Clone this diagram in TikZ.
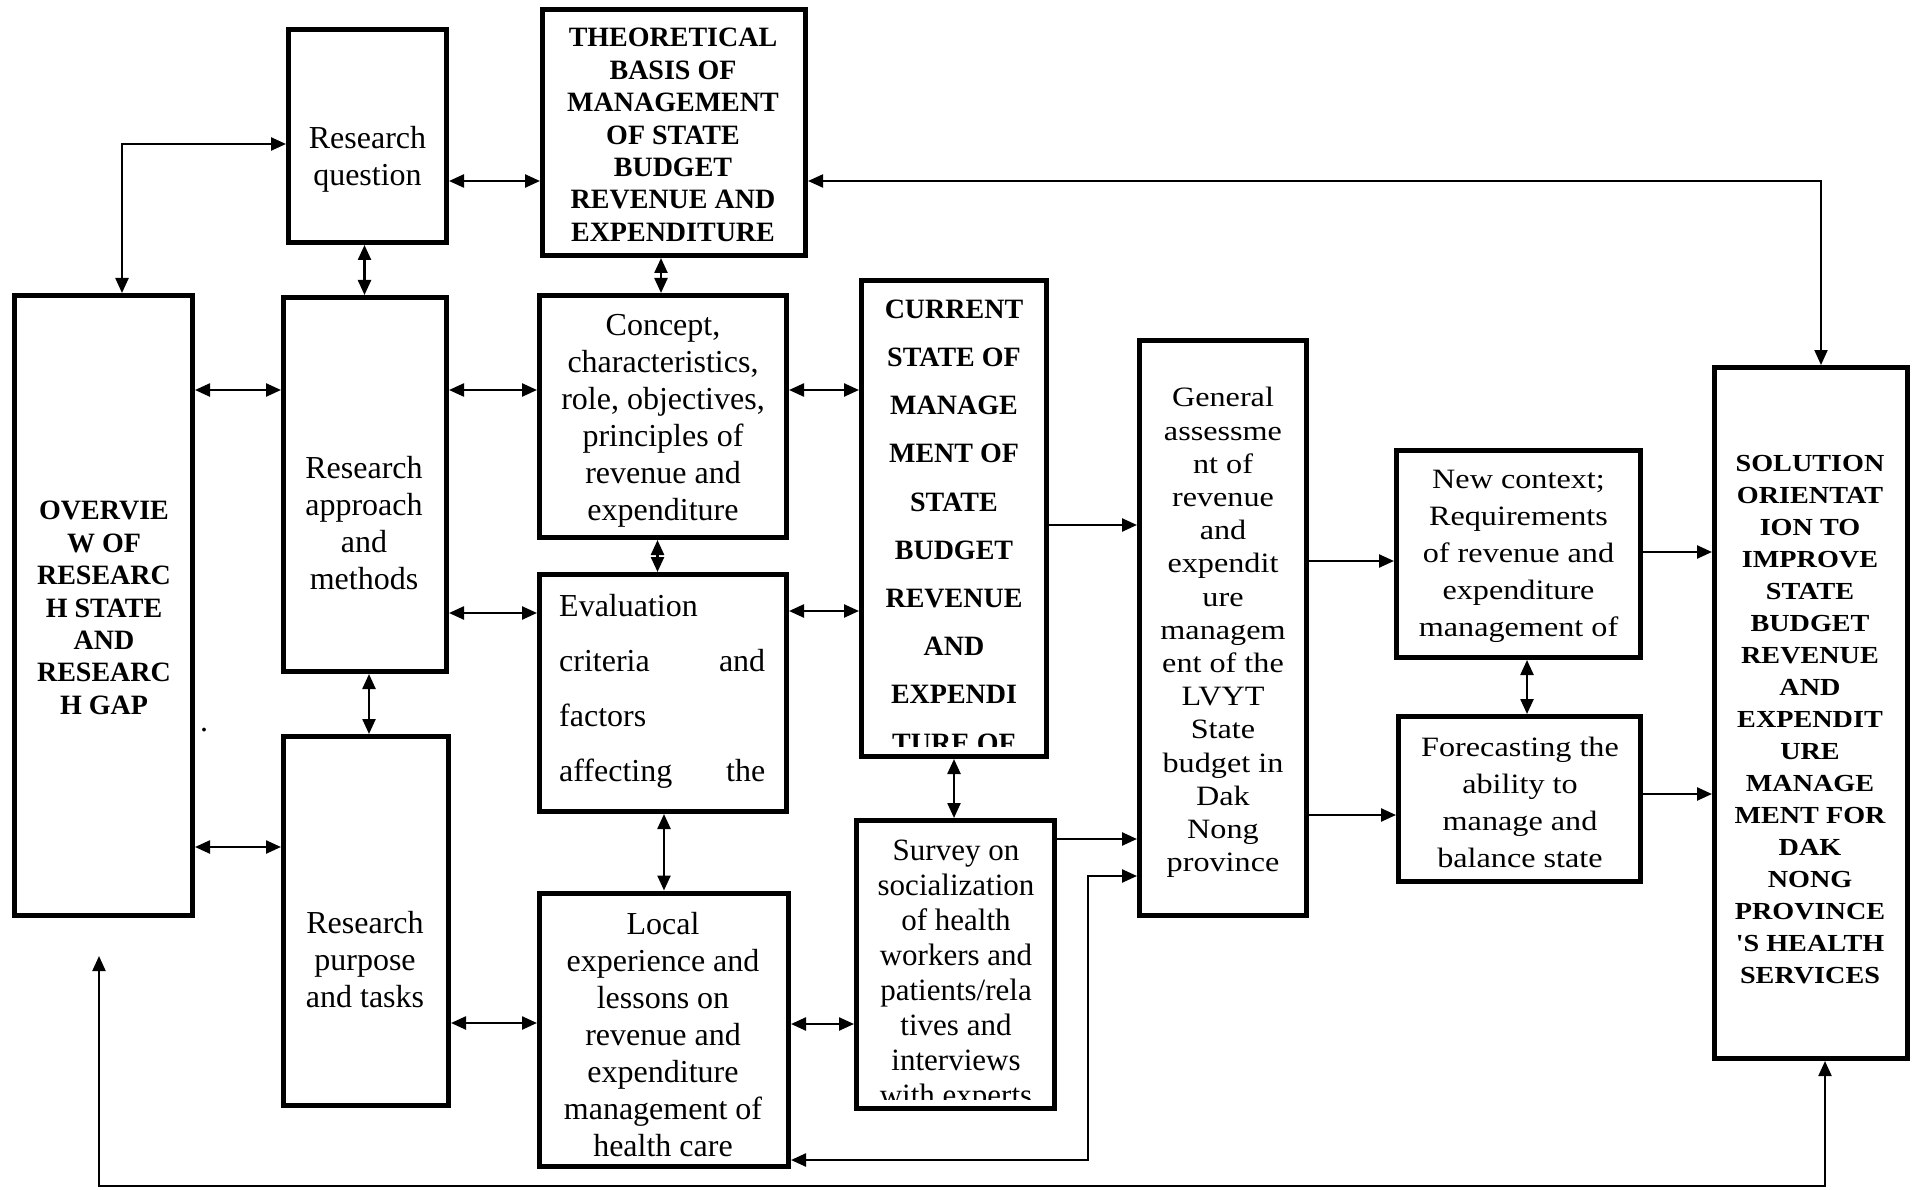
\documentclass[tikz,border=0pt]{standalone}
\usepackage{fontspec}
\setmainfont{Liberation Serif}
\newfontfamily\widefont[FakeStretch=1.15]{Liberation Serif}
\usetikzlibrary{arrows.meta}

\begin{document}
\begin{tikzpicture}[x=1pt,y=-1pt,
  box/.style={draw, line width=5pt, inner sep=0pt},
  conn/.style={line width=2.4pt, {Triangle[length=15pt,width=13pt]}-{Triangle[length=15pt,width=13pt]}},
  one/.style={line width=2.4pt, -{Triangle[length=15pt,width=13pt]}},
  txt/.style={align=center, inner sep=0pt, font=\fontsize{32}{37}\selectfont},
  capb/.style={align=center, inner sep=0pt, font=\bfseries\fontsize{28}{32.4}\selectfont},
  curs/.style={align=center, inner sep=0pt, font=\bfseries\fontsize{28}{48.2}\selectfont},
  survs/.style={align=center, inner sep=0pt, font=\fontsize{31}{35}\selectfont},
  gens/.style={align=center, inner sep=0pt, font=\widefont\fontsize{28}{33.2}\selectfont},
  ctxs/.style={align=center, inner sep=0pt, font=\widefont\fontsize{28}{37}\selectfont},
  sols/.style={align=center, inner sep=0pt, font=\widefont\bfseries\fontsize{24.5}{32}\selectfont}
]
\useasboundingbox (0,0) rectangle (1914,1190);

% boxes
\node[box, minimum width=158, minimum height=213] (rq) at (367.5,136) {};
\node[box, minimum width=263, minimum height=246] (theo) at (674,132.5) {};
\node[box, minimum width=178, minimum height=620] (ov) at (103.5,605.5) {};
\node[box, minimum width=163, minimum height=374] (ra) at (365,484.5) {};
\node[box, minimum width=165, minimum height=369] (rp) at (366,921) {};
\node[box, minimum width=247, minimum height=242] (con) at (663,416.5) {};
\node[box, minimum width=247, minimum height=237] (ev) at (663,693) {};
\node[box, minimum width=249, minimum height=273] (loc) at (664,1029.5) {};
\node[box, minimum width=185, minimum height=476] (cur) at (954,518.5) {};
\node[box, minimum width=198, minimum height=288] (sur) at (955.5,964.5) {};
\node[box, minimum width=167, minimum height=575] (gen) at (1223,628) {};
\node[box, minimum width=244, minimum height=207] (nc) at (1518.5,554) {};
\node[box, minimum width=242, minimum height=165] (fc) at (1519.5,799) {};
\node[box, minimum width=193, minimum height=691] (sol) at (1811,713) {};

% texts
\node[txt] (rq-t) at (367.5,159.5) {Research\\question};
\node[capb] (theo-t) at (673,135) {THEORETICAL\\BASIS OF\\MANAGEMENT\\OF STATE\\BUDGET\\REVENUE AND\\EXPENDITURE};
\node[capb] (ov-t) at (104,608) {OVERVIE\\W OF\\RESEARC\\H STATE\\AND\\RESEARC\\H GAP};
\node[txt] (ra-t) at (364,523) {Research\\approach\\and\\methods};
\node[txt] (rp-t) at (365,959.5) {Research\\purpose\\and tasks};
\node[txt] (con-t) at (663,420.5) {Concept,\\characteristics,\\role, objectives,\\principles of\\revenue and\\expenditure};
\node[txt, align=left, text width=206, anchor=north west, font=\fontsize{32}{55}\selectfont] (ev-t) at (559,594.5) {Evaluation\\criteria\hfill and\\factors\\affecting\hfill the};
\node[txt] (loc-t) at (663,1034.5) {Local\\experience and\\lessons on\\revenue and\\expenditure\\management of\\health care};
\begin{scope}
\clip (862,284) rectangle (1046,746);
\node[curs, anchor=north] (cur-t) at (954,299.6) {CURRENT\\STATE OF\\MANAGE\\MENT OF\\STATE\\BUDGET\\REVENUE\\AND\\EXPENDI\\TURE OF};
\end{scope}
\begin{scope}
\clip (857,821) rectangle (1054,1099);
\node[survs, anchor=north] (sur-t) at (956,840) {Survey on\\socialization\\of health\\workers and\\patients/rela\\tives and\\interviews\\with experts};
\end{scope}
\node[gens] (gen-t) at (1223,632.5) {General\\assessme\\nt of\\revenue\\and\\expendit\\ure\\managem\\ent of the\\LVYT\\State\\budget in\\Dak\\Nong\\province};
\node[ctxs] (nc-t) at (1518.5,556.5) {New context;\\Requirements\\of revenue and\\expenditure\\management of};
\node[ctxs] (fc-t) at (1520,802) {Forecasting the\\ability to\\manage and\\balance state};
\node[sols] (sol-t) at (1810,719.6) {SOLUTION\\ORIENTAT\\ION TO\\IMPROVE\\STATE\\BUDGET\\REVENUE\\AND\\EXPENDIT\\URE\\MANAGE\\MENT FOR\\DAK\\NONG\\PROVINCE\\'S HEALTH\\SERVICES};
\node[txt, anchor=base] (dot) at (204,731) {.};

% connectors
\draw[conn] (rq.west |- 0,144) -| (ov.north -| 122,0);
\draw[conn] (rq.east |- 0,181) -- (theo.west |- 0,181);
\draw[conn] (rq.south -| 364.5,0) -- (ra.north -| 364.5,0);
\draw[conn] (theo.south -| 661,0) -- (con.north -| 661,0);
\draw[conn, line width=2pt] (theo.east |- 0,181) -| (sol.north -| 1821,0);
\draw[conn] (ov.east |- 0,390) -- (ra.west |- 0,390);
\draw[conn] (ov.east |- 0,847) -- (rp.west |- 0,847);
\draw[conn] (ra.east |- 0,390) -- (con.west |- 0,390);
\draw[conn] (ra.east |- 0,613) -- (ev.west |- 0,613);
\draw[conn] (ra.south -| 369,0) -- (rp.north -| 369,0);
\draw[conn] (con.east |- 0,390) -- (cur.west |- 0,390);
\draw[conn] (ev.east |- 0,611) -- (cur.west |- 0,611);
\draw[conn] (con.south -| 657.5,0) -- (ev.north -| 657.5,0);
\draw[conn] (ev.south -| 664,0) -- (loc.north -| 664,0);
\draw[conn] (rp.east |- 0,1023) -- (loc.west |- 0,1023);
\draw[conn] (loc.east |- 0,1024) -- (sur.west |- 0,1024);
\draw[conn] (cur.south -| 954,0) -- (sur.north -| 954,0);
\draw[one] (cur.east |- 0,525) -- (gen.west |- 0,525);
\draw[one] (sur.east |- 0,839) -- (gen.west |- 0,839);
\draw[conn] (loc.east |- 0,1160) -| (1088,876) -- (gen.west |- 0,876);
\draw[one] (gen.east |- 0,561) -- (nc.west |- 0,561);
\draw[one] (gen.east |- 0,815) -- (fc.west |- 0,815);
\draw[conn] (nc.south -| 1527,0) -- (fc.north -| 1527,0);
\draw[one] (nc.east |- 0,552) -- (sol.west |- 0,552);
\draw[one] (fc.east |- 0,794) -- (sol.west |- 0,794);
\coordinate (fb) at (99,956);
\draw[conn, line width=2pt] (fb) -- (99,1186) -| (sol.south -| 1825,0);
\end{tikzpicture}
\end{document}
